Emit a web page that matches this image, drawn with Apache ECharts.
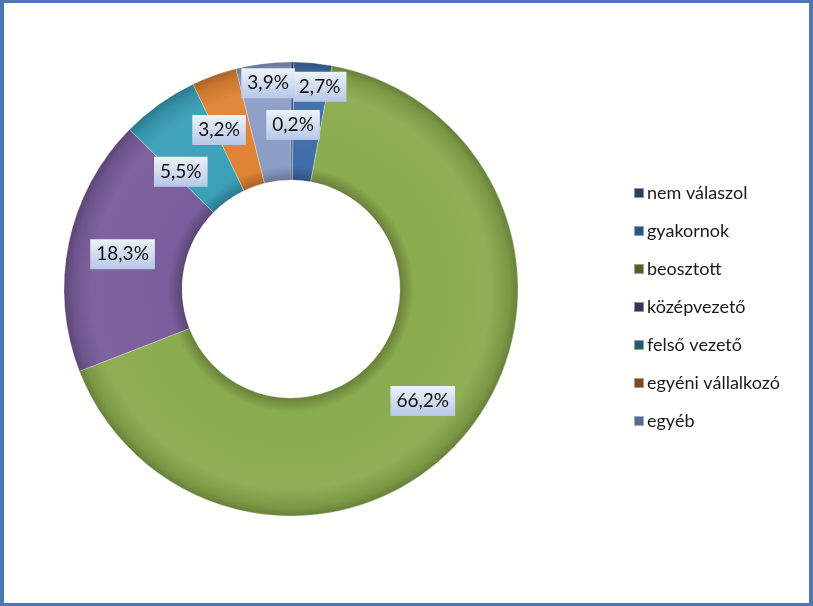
<!DOCTYPE html>
<html>
<head>
<meta charset="utf-8">
<script src="https://cdn.jsdelivr.net/npm/echarts@6/dist/echarts.min.js"></script>
<style>
html,body{margin:0;padding:0;background:#fff;}
#frame{position:absolute;left:0;top:0;width:813px;height:606px;box-sizing:border-box;
  border-left:4px solid #4f78b3;border-top:3px solid #4f78b3;border-right:4px solid #4f78b3;border-bottom:3px solid #4f78b3;background:#fffffd;}
#chart{position:absolute;left:0;top:0;width:813px;height:606px;}
</style>
</head>
<body>
<div id="frame"></div>
<div id="chart"></div>
<script>
var categories = ['nem válaszol', 'gyakornok', 'beosztott', 'középvezető', 'felső vezető', 'egyéni vállalkozó', 'egyéb'];
var values = [0.2, 2.7, 66.2, 18.3, 5.5, 3.2, 3.9];
var sliceColors = ['#2b4a78', '#3f6ea8', '#8aab4e', '#7a5d9c', '#3aa0b8', '#df8335', '#8c9dc6'];
var legendColors = ['#2d3e5b', '#2f5382', '#4e6128', '#3e3254', '#215a69', '#7c4a22', '#566a8f'];
var labelShift = [[1, 7], [12, -32], [0, 3], [-1, 0], [-11, 22], [-14, 2], [-2, -36]];

var CX = 291, CY = 289, R0 = 109, R1 = 227;

function shade(hex, f) {
  var n = parseInt(hex.slice(1), 16);
  var r = (n >> 16) & 255, g = (n >> 8) & 255, b = n & 255;
  function c(v) { v = f < 0 ? v * (1 + f) : v + (255 - v) * f; return Math.max(0, Math.min(255, Math.round(v))); }
  return 'rgb(' + c(r) + ',' + c(g) + ',' + c(b) + ')';
}
function grad(hex) {
  return {
    type: 'radial', x: CX, y: CY, r: R1, global: true,
    colorStops: [
      { offset: 0, color: shade(hex, -0.25) },
      { offset: R0 / R1, color: shade(hex, -0.25) },
      { offset: R0 / R1 + 0.06, color: hex },
      { offset: 0.88, color: shade(hex, 0.04) },
      { offset: 0.96, color: shade(hex, -0.1) },
      { offset: 1, color: shade(hex, -0.25) }
    ]
  };
}

var pieData = categories.map(function (c, i) {
  return { name: c, value: values[i], itemStyle: { color: grad(sliceColors[i]) } };
});
var legendData = categories.map(function (c, i) {
  return { name: c, itemStyle: { color: legendColors[i] } };
});

var chart = echarts.init(document.getElementById('chart'), null, { renderer: 'canvas' });
chart.setOption({
  animation: false,
  backgroundColor: 'transparent',
  legend: {
    orient: 'vertical', left: 628, top: 179,
    itemWidth: 10, itemHeight: 10, itemGap: 20,
    icon: 'rect',
    textStyle: { fontFamily: 'Lato, "Open Sans", sans-serif', fontSize: 18, lineHeight: 18, color: '#1a1a1a', padding: [0, 0, 0, -2] },
    data: legendData
  },
  series: [{
    type: 'pie',
    center: [CX, CY],
    radius: [R0, R1],
    startAngle: 90,
    clockwise: true,
    avoidLabelOverlap: false,
    itemStyle: { borderColor: 'rgba(255,255,255,0.45)', borderWidth: 0.6 },
    label: {
      show: true, position: 'inside',
      formatter: function (p) { return p.value.toFixed(1).replace('.', ',') + '%'; },
      fontFamily: 'Lato, "Open Sans", sans-serif', fontSize: 19, color: '#111',
      padding: [6, 6, 5, 6],
      backgroundColor: {
        type: 'linear', x: 0, y: 0, x2: 0, y2: 1,
        colorStops: [{ offset: 0, color: '#eef2fa' }, { offset: 1, color: '#b6c8e6' }]
      }
    },
    labelLine: { show: false },
    labelLayout: function (p) {
      var s = labelShift[p.dataIndex];
      return { dx: s[0], dy: s[1] };
    },
    emphasis: { disabled: true },
    data: pieData
  }]
});
</script>
</body>
</html>
